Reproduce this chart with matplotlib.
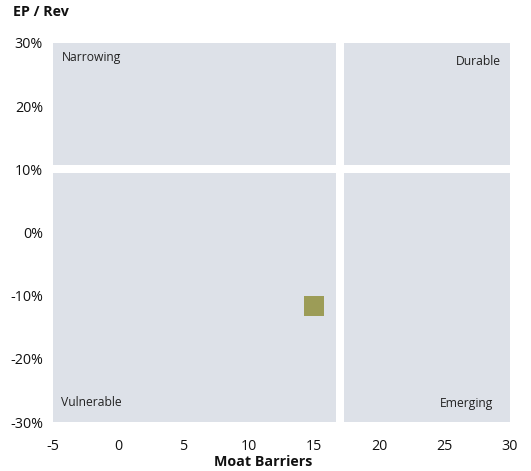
import matplotlib
matplotlib.use("Agg")
import matplotlib.pyplot as plt
from matplotlib.ticker import FuncFormatter

plt.rcParams['font.family'] = ['Open Sans', 'DejaVu Sans']

# Data
moat_barriers = [15]
ep_rev = [-11.7]
x_ticks = [-5, 0, 5, 10, 15, 20, 25, 30]
y_ticks = [-30, -20, -10, 0, 10, 20, 30]
x_split = 17
y_split = 10
quadrants = ["Narrowing", "Durable", "Vulnerable", "Emerging"]

fig = plt.figure(figsize=(5.31, 4.71), dpi=100)
ax = fig.add_axes([53 / 531, 1 - 422 / 471, (510 - 53) / 531, (422 - 43) / 471])
ax.set_facecolor('#dde1e8')
ax.set_xlim(-5, 30)
ax.set_ylim(-30, 30)

# white dividers between quadrants
ax.axvline(x_split, color='white', lw=5.8, zorder=1)
ax.axhline(y_split, color='white', lw=5.8, zorder=1)

ax.scatter(moat_barriers, ep_rev, marker='s', s=15 ** 2, color='#9c9c57', zorder=3, linewidths=0)

for s in ax.spines.values():
    s.set_visible(False)
ax.set_xticks(x_ticks)
ax.set_yticks(y_ticks)
ax.xaxis.set_major_formatter(FuncFormatter(lambda v, p: f"{v:g}"))
ax.yaxis.set_major_formatter(FuncFormatter(lambda v, p: f"{v:g}%"))
ax.tick_params(length=0, labelsize=10.3, colors='#111111')
ax.tick_params(axis='y', pad=7.2)
ax.tick_params(axis='x', pad=12.5)

tkw = dict(fontsize=8.7, color='#222222', transform=ax.transAxes, va='baseline')
ax.text(0.0197, 0.9525, quadrants[0], ha='left', **tkw)
ax.text(0.980, 0.942, quadrants[1], ha='right', **tkw)
ax.text(0.0175, 0.042, quadrants[2], ha='left', **tkw)
ax.text(0.963, 0.0396, quadrants[3], ha='right', **tkw)

fig.text(263 / 531, 1 - 462 / 471, "Moat Barriers", fontsize=10.3, fontweight='bold',
         ha='center', va='center', color='#111111')
fig.text(13 / 531, 1 - 12 / 471, "EP / Rev", fontsize=10.3, fontweight='bold',
         ha='left', va='center', color='#111111')

fig.savefig("out.png", dpi=100)
